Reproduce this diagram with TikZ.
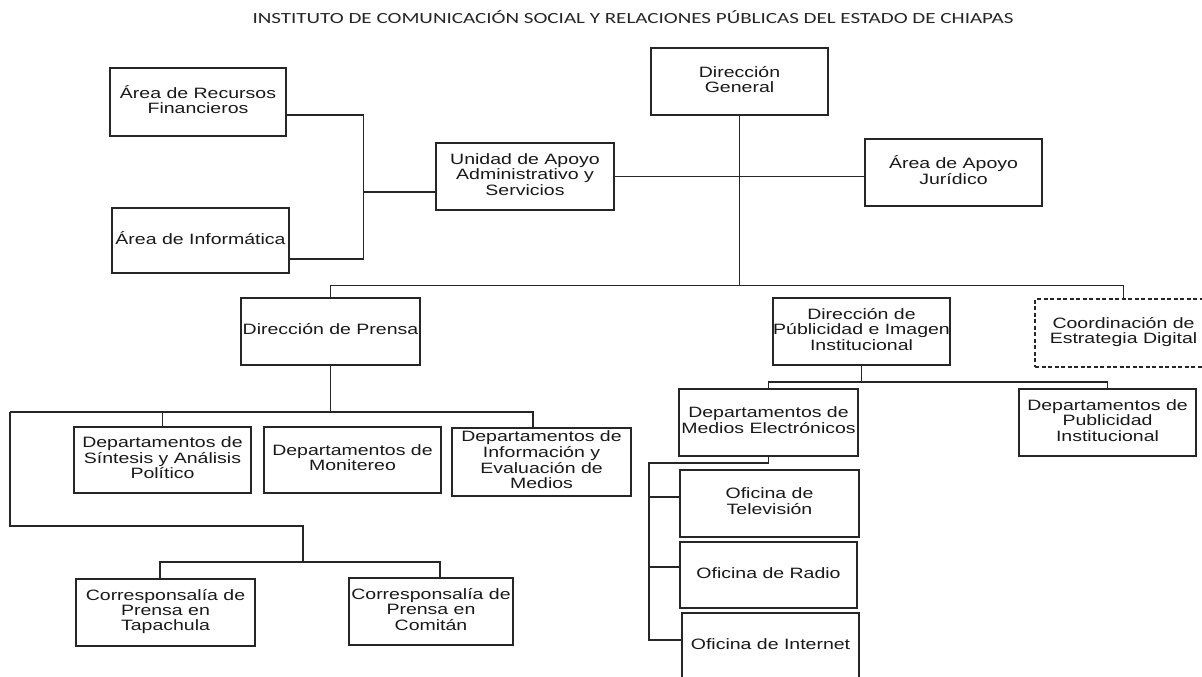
\documentclass[tikz,border=0pt]{standalone}
\usepackage{fontspec}
\usepackage{graphicx}
\setmainfont{Liberation Sans}
\newfontfamily\titlefont{Carlito}
\newcommand\lbl[1]{\scalebox{1.3}[1]{\begin{tabular}{@{}c@{}}#1\end{tabular}}}
\tikzset{
  box/.style={draw=black!85, line width=1.2pt, inner sep=0pt, outer sep=0pt,
    font=\fontsize{15}{15}\selectfont, text=black!90, fill=white},
  dbox/.style={box, dash pattern=on 4pt off 2.5pt},
  conn/.style={draw=black!85, line width=1.2pt},
}
\begin{document}
\begin{tikzpicture}[x=1pt,y=-1pt]
\useasboundingbox (0,0) rectangle (1202,677);
\fill[white] (0,0) rectangle (1202,677);

\node[font=\titlefont\fontsize{15.5}{15.5}\selectfont, text=black!85, inner sep=0pt] (title) at (633,17)
  {\resizebox{761pt}{\height}{INSTITUTO DE COMUNICACIÓN SOCIAL Y RELACIONES PÚBLICAS DEL ESTADO DE CHIAPAS}};

% boxes
\node[box, minimum width=177pt, minimum height=67pt] (dg) at (739.5,81.5) {\lbl{Dirección\\General}};
\node[box, minimum width=176pt, minimum height=68pt] (rf) at (198,102) {\lbl{Área de Recursos\\Financieros}};
\node[box, minimum width=177pt, minimum height=65pt] (inf) at (200.5,240.5) {\lbl{Área de Informática}};
\node[box, minimum width=178pt, minimum height=67pt] (uas) at (525,176.5) {\lbl{Unidad de Apoyo\\Administrativo y\\Servicios}};
\node[box, minimum width=177pt, minimum height=67pt] (jur) at (953.5,172.5) {\lbl{Área de Apoyo\\Jurídico}};
\node[box, minimum width=179pt, minimum height=67pt] (dp) at (330.5,331.5) {\lbl{Dirección de Prensa}};
\node[box, minimum width=177pt, minimum height=67pt] (dpi) at (861.5,331.5) {\lbl{Dirección de\\Públicidad e Imagen\\Institucional}};
\node[dbox, minimum width=177pt, minimum height=68pt] (ced) at (1123.5,333) {\lbl{Coordinación de\\Estrategia Digital}};
\node[box, minimum width=177pt, minimum height=66pt] (sap) at (162.5,460) {\lbl{Departamentos de\\Síntesis y Análisis\\Político}};
\node[box, minimum width=177pt, minimum height=66pt] (mon) at (352.5,460) {\lbl{Departamentos de\\Monitereo}};
\node[box, minimum width=179pt, minimum height=68pt] (iem) at (541.5,462) {\lbl{Departamentos de\\Información y\\Evaluación de\\Medios}};
\node[box, minimum width=179pt, minimum height=67pt] (dme) at (768.5,422.5) {\lbl{Departamentos de\\Medios Electrónicos}};
\node[box, minimum width=177pt, minimum height=67pt] (dpin) at (1107.5,422.5) {\lbl{Departamentos de\\Publicidad\\Institucional}};
\node[box, minimum width=179pt, minimum height=67pt] (otv) at (769.5,503.5) {\lbl{Oficina de\\Televisión}};
\node[box, minimum width=177pt, minimum height=66pt] (ora) at (768.5,575) {\lbl{Oficina de Radio}};
\node[box, minimum width=177pt, minimum height=67pt] (oin) at (770.5,646.5) {\lbl{Oficina de Internet}};
\node[box, minimum width=179pt, minimum height=67pt] (cpt) at (165.5,612.5) {\lbl{Corresponsalía de\\Prensa en\\Tapachula}};
\node[box, minimum width=164pt, minimum height=67pt] (cpc) at (431,611.5) {\lbl{Corresponsalía de\\Prensa en\\Comitán}};

% coordinates
\coordinate (bus1) at (739.5,285.5);
\coordinate (j1) at (363.5,192);
\coordinate (pl) at (10,412);
\coordinate (pr) at (533,412);
\coordinate (cl) at (10,526);
\coordinate (cm) at (303,562);
\coordinate (b3) at (861.5,382);
\coordinate (e1) at (649,463);
\coordinate (rfE) at ([yshift=-13pt]rf.east);
\coordinate (infE) at ([yshift=-18.5pt]inf.east);
\coordinate (cptN) at ([xshift=-5.5pt]cpt.north);
\coordinate (cpcN) at ([xshift=9pt]cpc.north);
\coordinate (otvW) at ([yshift=6.5pt]otv.west);
\coordinate (oraW) at ([yshift=8pt]ora.west);
\coordinate (oinW) at ([yshift=6.5pt]oin.west);

% connectors
\draw[conn] (dg.south) -- (bus1);
\draw[conn] (dp.north) |- (bus1) -| (ced.north);
\draw[conn] (uas.east) -- (uas.east -| jur.west);
\draw[conn] (rfE) -| (j1) |- (infE);
\draw[conn] (j1) -- (j1 -| uas.west);
\draw[conn] (dp.south) -- (dp.south |- pl);
\draw[conn] (pl) -- (pr) -- (pr |- iem.north);
\draw[conn] (sap.north) -- (sap.north |- pl);
\draw[conn] (pl) -- (cl) -| (cm);
\draw[conn] (cptN) |- (cm) -| (cpcN);
\draw[conn] (dpi.south) -- (b3);
\draw[conn] (dme.north) |- (b3) -| (dpin.north);
\draw[conn] (dme.south) |- (e1) |- (oinW);
\draw[conn] (e1 |- otvW) -- (otvW);
\draw[conn] (e1 |- oraW) -- (oraW);
\end{tikzpicture}
\end{document}
